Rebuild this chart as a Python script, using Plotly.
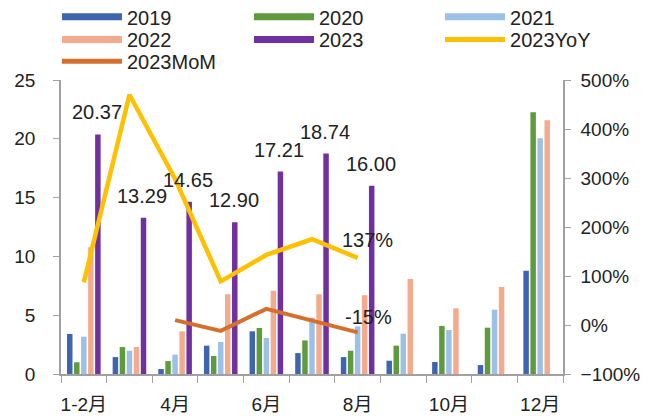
import plotly.graph_objects as go

categories = ["1-2月", "3月", "4月", "5月", "6月", "7月", "8月", "9月", "10月", "11月", "12月"]
tick_text = ["1-2月", "", "4月", "", "6月", "", "8月", "", "10月", "", "12月"]

v2019 = [3.40, 1.44, 0.42, 2.41, 3.63, 1.78, 1.44, 1.13, 1.02, 0.76, 8.78]
v2020 = [1.00, 2.29, 1.10, 1.53, 3.91, 2.86, 1.98, 2.41, 4.08, 3.94, 22.25]
v2021 = [3.17, 1.98, 1.64, 2.72, 3.06, 4.79, 4.05, 3.43, 3.74, 5.47, 20.04]
v2022 = [10.79, 2.29, 3.63, 6.78, 7.08, 6.78, 6.70, 8.08, 5.58, 7.40, 21.57]
v2023 = [20.37, 13.29, 14.65, 12.90, 17.21, 18.74, 16.00, None, None, None, None]
yoy2023 = [87, 470, 298, 89, 143, 175, 137, None, None, None, None]
mom2023 = [None, None, 10, -12, 33, 9, -15, None, None, None, None]

FONT = "Liberation Sans, Arial, Noto Sans CJK SC, sans-serif"
C2019, C2020, C2021, C2022, C2023 = "#3F65B0", "#5F9B3D", "#9CC0E6", "#F4AA8C", "#7030A0"
CYOY, CMOM = "#FFC000", "#D4702D"

fig = go.Figure()
bar_series = [("2019", v2019, C2019), ("2020", v2020, C2020), ("2021", v2021, C2021),
              ("2022", v2022, C2022), ("2023", v2023, C2023)]
for name, vals, col in bar_series:
    fig.add_trace(go.Bar(x=categories, y=vals, name=name, marker_color=col,
                         marker_line_width=0, showlegend=False))

fig.add_trace(go.Scatter(x=categories, y=yoy2023, name="2023YoY", mode="lines",
                         line=dict(color=CYOY, width=4.5), yaxis="y2", showlegend=False))
fig.add_trace(go.Scatter(x=categories, y=mom2023, name="2023MoM", mode="lines",
                         line=dict(color=CMOM, width=4), yaxis="y2", showlegend=False))

# legend entries: one small legend per entry, laid out in a 3-column grid
legend_items = [
    ("2019", C2019, 7, 0, 0), ("2020", C2020, 7, 1, 0), ("2021", C2021, 7, 2, 0),
    ("2022", C2022, 7, 0, 1), ("2023", C2023, 7, 1, 1), ("2023YoY", CYOY, 5, 2, 1),
    ("2023MoM", CMOM, 5, 0, 2),
]
col_x = [-0.008, 0.3745, 0.755]
row_y = [1.215, 1.138, 1.064]

legend_layout = {}
for i, (name, col, w, cx, ry) in enumerate(legend_items):
    key = "legend" if i == 0 else f"legend{i + 1}"
    fig.add_trace(go.Scatter(x=[None], y=[None], name=name, mode="lines",
                             line=dict(color=col, width=w), legend=key,
                             showlegend=True, hoverinfo="skip"))
    legend_layout[key] = dict(orientation="h", xref="paper", yref="paper",
                              x=col_x[cx], y=row_y[ry], xanchor="left", yanchor="middle",
                              font=dict(size=20, color="#222", family="Liberation Sans, Arial"),
                              itemwidth=60, bgcolor="rgba(0,0,0,0)", borderwidth=0,
                              itemclick=False, itemdoubleclick=False)

annotations = []
for c, v in zip(categories, v2023):
    if v is not None:
        annotations.append(dict(x=c, y=v, xref="x", yref="y", text=f"{v:.2f}",
                                showarrow=False, xshift=13, yshift=22, yanchor="middle",
                                font=dict(size=20, color="#222", family=FONT)))
annotations.append(dict(x=categories[6], y=yoy2023[6], xref="x", yref="y2",
                        text=f"{yoy2023[6]}%", showarrow=False, xshift=10, yshift=18,
                        yanchor="middle", font=dict(size=20, color="#222", family=FONT)))
annotations.append(dict(x=categories[6], y=mom2023[6], xref="x", yref="y2",
                        text=f"{mom2023[6]}%", showarrow=False, xshift=11, yshift=15,
                        yanchor="middle", font=dict(size=20, color="#222", family=FONT)))

fig.update_layout(
    width=657, height=416,
    margin=dict(l=61, r=94, t=80, b=42, autoexpand=False),
    paper_bgcolor="white", plot_bgcolor="white",
    font=dict(family=FONT, size=19, color="#222"),
    barmode="group", bargap=0.23, bargroupgap=0.22,
    showlegend=True,
    xaxis=dict(type="category", categoryorder="array", categoryarray=categories,
               tickvals=categories, ticktext=tick_text, tickson="boundaries",
               tickangle=0, automargin=False, ticklabelstandoff=12,
               ticks="outside", ticklen=7, tickcolor="#A0A0A0", showline=True,
               linecolor="#A0A0A0", linewidth=1.5, showgrid=False,
               tickfont=dict(size=19, family=FONT, color="#222")),
    yaxis=dict(range=[0, 25], dtick=5, ticks="outside", ticklen=6, tickcolor="#A0A0A0",
               showline=True, linecolor="#A0A0A0", linewidth=1.5, showgrid=False,
               automargin=False, ticklabelstandoff=14,
               zeroline=False, tickfont=dict(size=19, family=FONT, color="#222")),
    yaxis2=dict(range=[-100, 500], dtick=100, overlaying="y", side="right",
                ticksuffix="%", ticks="outside", ticklen=6, tickcolor="#A0A0A0",
                showline=True, linecolor="#A0A0A0", linewidth=1.5, showgrid=False,
                automargin=False, ticklabelstandoff=6,
                zeroline=False, tickfont=dict(size=19, family=FONT, color="#222")),
    annotations=annotations,
    **legend_layout,
)

fig.write_html("out.html")
